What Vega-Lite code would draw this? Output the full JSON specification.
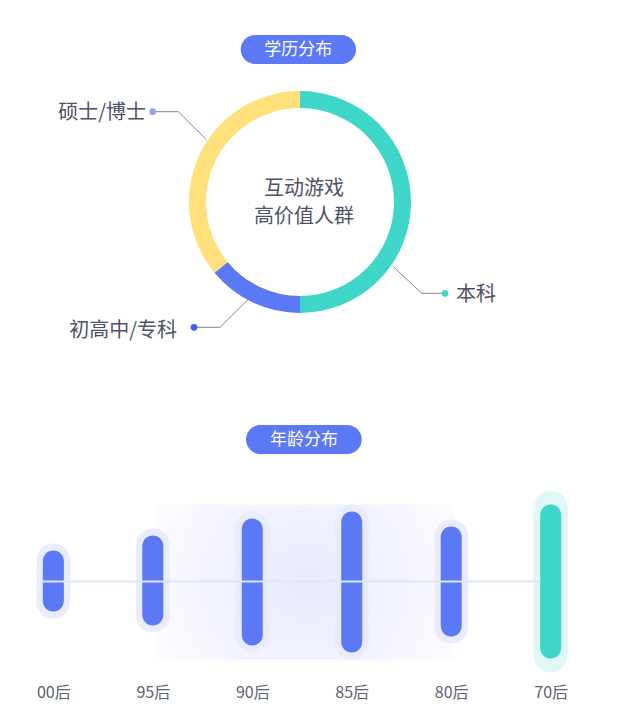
{
  "$schema": "https://vega.github.io/schema/vega-lite/v6.json",
  "description": "学历分布 donut and 年龄分布 range bars",
  "padding": {"left": 0, "top": 0, "right": 0, "bottom": 16},
  "spacing": 0,
  "background": "white",
  "config": {
    "view": {"stroke": null},
    "font": "Noto Sans CJK SC",
    "axisQuantitative": {"disable": true}
  },
  "datasets": {
    "education": [
      {"edu": "本科", "share": 50},
      {"edu": "初高中/专科", "share": 14},
      {"edu": "硕士/博士", "share": 36}
    ],
    "ages": [
      {"age": "00后", "hi": 31, "lo": -30},
      {"age": "95后", "hi": 46, "lo": -44},
      {"age": "90后", "hi": 63, "lo": -64},
      {"age": "85后", "hi": 70, "lo": -71},
      {"age": "80后", "hi": 55, "lo": -55},
      {"age": "70后", "hi": 77, "lo": -77}
    ]
  },
  "vconcat": [
    {
      "width": 618,
      "height": 460,
      "data": {"values": [{}]},
      "layer": [
        {
          "mark": {"type": "rect", "color": "#5b78f5", "cornerRadius": 14.5},
          "encoding": {
            "x": {"datum": -59.3, "type": "quantitative", "scale": {"domain": [-300, 318], "nice": false, "zero": false}},
            "x2": {"datum": 56},
            "y": {"datum": 167, "type": "quantitative", "scale": {"domain": [-258, 202], "nice": false, "zero": false}},
            "y2": {"datum": 138}
          }
        },
        {
          "mark": {"type": "text", "text": "学历分布", "color": "white", "fontSize": 17},
          "encoding": {"x": {"datum": -1.7}, "y": {"datum": 152.5}}
        },
        {
          "data": {"name": "education"},
          "mark": {"type": "arc", "outerRadius": 111, "innerRadius": 94},
          "encoding": {
            "theta": {"field": "share", "type": "quantitative", "stack": true, "scale": {"range": [-2.26195, 4.02124]}},
            "order": {"field": "edu", "sort": "descending"},
            "color": {
              "field": "edu",
              "type": "nominal",
              "scale": {"domain": ["本科", "初高中/专科", "硕士/博士"], "range": ["#3ed6c9", "#5b78f5", "#ffe07b"]},
              "legend": null
            },
            "x": {"datum": 0},
            "y": {"datum": 0}
          }
        },
        {
          "mark": {"type": "text", "text": ["互动游戏", "高价值人群"], "fontSize": 20, "lineHeight": 28, "color": "#4d5268"},
          "encoding": {"x": {"datum": 4}, "y": {"datum": 13}}
        },
        {
          "mark": {"type": "rule", "color": "#7d84a2", "strokeWidth": 1},
          "encoding": {"x": {"datum": -93.3}, "y": {"datum": 62}, "x2": {"datum": -121.7}, "y2": {"datum": 90.3}}
        },
        {
          "mark": {"type": "rule", "color": "#7d84a2", "strokeWidth": 1},
          "encoding": {"x": {"datum": -121.7}, "y": {"datum": 90.3}, "x2": {"datum": -147.3}, "y2": {"datum": 90.3}}
        },
        {
          "mark": {"type": "circle", "size": 45, "color": "#96a3f7", "opacity": 1},
          "encoding": {"x": {"datum": -147.3}, "y": {"datum": 90.3}}
        },
        {
          "mark": {"type": "text", "text": "硕士/博士", "align": "right", "fontSize": 20, "color": "#4d5268"},
          "encoding": {"x": {"datum": -154}, "y": {"datum": 89.5}}
        },
        {
          "mark": {"type": "rule", "color": "#7d84a2", "strokeWidth": 1},
          "encoding": {"x": {"datum": 93.3}, "y": {"datum": -64.7}, "x2": {"datum": 121.7}, "y2": {"datum": -91.3}}
        },
        {
          "mark": {"type": "rule", "color": "#7d84a2", "strokeWidth": 1},
          "encoding": {"x": {"datum": 121.7}, "y": {"datum": -91.3}, "x2": {"datum": 145}, "y2": {"datum": -91.3}}
        },
        {
          "mark": {"type": "circle", "size": 45, "color": "#3ed6c9", "opacity": 1},
          "encoding": {"x": {"datum": 145}, "y": {"datum": -91.3}}
        },
        {
          "mark": {"type": "text", "text": "本科", "align": "left", "fontSize": 20, "color": "#4d5268"},
          "encoding": {"x": {"datum": 156}, "y": {"datum": -93}}
        },
        {
          "mark": {"type": "rule", "color": "#7d84a2", "strokeWidth": 1},
          "encoding": {"x": {"datum": -50.7}, "y": {"datum": -96.3}, "x2": {"datum": -80}, "y2": {"datum": -125.3}}
        },
        {
          "mark": {"type": "rule", "color": "#7d84a2", "strokeWidth": 1},
          "encoding": {"x": {"datum": -80}, "y": {"datum": -125.3}, "x2": {"datum": -106}, "y2": {"datum": -125.3}}
        },
        {
          "mark": {"type": "circle", "size": 45, "color": "#3d5bf5", "opacity": 1},
          "encoding": {"x": {"datum": -106}, "y": {"datum": -125.3}}
        },
        {
          "mark": {"type": "text", "text": "初高中/专科", "align": "right", "fontSize": 20, "color": "#4d5268"},
          "encoding": {"x": {"datum": -123}, "y": {"datum": -128.7}}
        },
        {
          "mark": {"type": "rect", "color": "#5b78f5", "cornerRadius": 14.5},
          "encoding": {"x": {"datum": -54}, "x2": {"datum": 61.7}, "y": {"datum": -223}, "y2": {"datum": -252}}
        },
        {
          "mark": {"type": "text", "text": "年龄分布", "color": "white", "fontSize": 17},
          "encoding": {"x": {"datum": 4}, "y": {"datum": -237.5}}
        }
      ]
    },
    {
      "width": 604,
      "height": 215,
      "layer": [
        {
          "data": {"values": [{}]},
          "mark": {
            "type": "rect",
            "xOffset": 4,
            "x2Offset": 2,
            "color": {
              "gradient": "radial",
              "x1": 0.5, "y1": 0.5, "r1": 0,
              "x2": 0.5, "y2": 0.5, "r2": 0.6,
              "stops": [
                {"offset": 0, "color": "#e7eafd"},
                {"offset": 0.6, "color": "#f4f5fe"},
                {"offset": 1, "color": "#fefeff"}
              ]
            }
          },
          "encoding": {
            "x": {"datum": "95后"},
            "x2": {"datum": "80后"},
            "y": {"datum": 77, "type": "quantitative", "scale": {"domain": [-93.5, 121.5], "nice": false, "zero": false}},
            "y2": {"datum": -79}
          }
        },
        {
          "data": {"name": "ages"},
          "mark": {"type": "bar", "width": 34, "cornerRadius": 17, "yOffset": -7, "y2Offset": 7},
          "encoding": {
            "x": {
              "field": "age",
              "type": "nominal",
              "scale": {"type": "point", "domain": ["00后", "95后", "90后", "85后", "80后", "70后"], "padding": 0.536},
              "axis": {"title": null, "domain": false, "ticks": false, "grid": false, "labelAngle": 0, "labelAlign": "center", "labelBaseline": "top", "labelPadding": 9, "labelFontSize": 16, "labelColor": "#5d6279", "labelBound": false}
            },
            "y": {"field": "hi", "type": "quantitative"},
            "y2": {"field": "lo"},
            "color": {"condition": {"test": "datum.age === '70后'", "value": "#dff8f5"}, "value": "#e9ecfd"}
          }
        },
        {
          "data": {"name": "ages"},
          "transform": [{"filter": "datum.age === '70后'"}],
          "mark": {"type": "bar", "width": 34, "cornerRadius": 17, "yOffset": -14, "y2Offset": 14, "color": "#dff8f5"},
          "encoding": {
            "x": {"field": "age", "type": "nominal"},
            "y": {"field": "hi", "type": "quantitative"},
            "y2": {"field": "lo"}
          }
        },
        {
          "data": {"name": "ages"},
          "mark": {"type": "bar", "width": 21, "cornerRadius": 10.5},
          "encoding": {
            "x": {"field": "age", "type": "nominal"},
            "y": {"field": "hi", "type": "quantitative"},
            "y2": {"field": "lo"},
            "color": {"condition": {"test": "datum.age === '70后'", "value": "#3ed6c9"}, "value": "#5b78f5"}
          }
        },
        {
          "data": {"values": [{}]},
          "mark": {"type": "rule", "color": "#dfe4fd", "strokeWidth": 2, "xOffset": -10.5, "x2Offset": -10.5},
          "encoding": {
            "x": {"datum": "00后"},
            "x2": {"datum": "70后"},
            "y": {"datum": 0}
          }
        }
      ]
    }
  ]
}
